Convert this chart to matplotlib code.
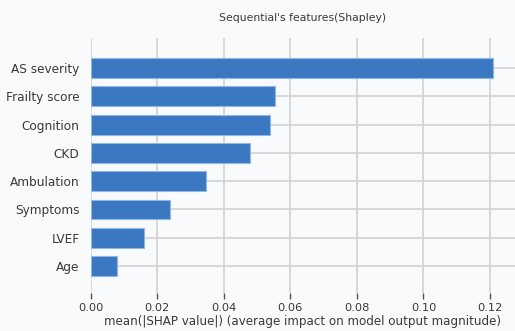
import matplotlib.pyplot as plt

features = ["Age", "LVEF", "Symptoms", "Ambulation", "CKD", "Cognition", "Frailty score", "AS severity"]
mean_shap = [0.0078, 0.0161, 0.0238, 0.0346, 0.0479, 0.0539, 0.0555, 0.1210]
xticks = [0.00, 0.02, 0.04, 0.06, 0.08, 0.10, 0.12]

bg = "#f9fafb"
txt = "#3a3a3a"

fig = plt.figure(figsize=(5.15, 3.31), dpi=100, facecolor=bg)
ax = fig.add_axes([0.176, 0.115, 0.824, 0.770], facecolor=bg)

ypos = list(range(len(features)))
ax.barh(ypos, mean_shap, height=0.7, color="#3b78c2", edgecolor="#8fb8e6", linewidth=0.8, zorder=3)

ax.set_yticks(ypos)
ax.set_yticklabels(features, fontsize=8.7, color=txt)
ax.set_xticks(xticks)
ax.set_xticklabels([f"{t:.2f}" for t in xticks], fontsize=8.2, color=txt)
ax.set_xlim(0, 0.1275)
ax.set_ylim(-0.95, 8.06)

ax.grid(True, color="#d2d2d2", linewidth=1.2, zorder=0)
for s in ["top", "right", "left", "bottom"]:
    ax.spines[s].set_visible(False)
ax.tick_params(axis="y", length=0, pad=8)
ax.tick_params(axis="x", length=4, width=1, color="#555555", pad=3.5)

ax.set_xlabel("mean(|SHAP value|) (average impact on model output magnitude)", fontsize=8.6, color=txt, labelpad=1.5)
ax.set_title("Sequential's features(Shapley)", fontsize=7.8, color=txt, pad=12)

fig.savefig("out.png", dpi=100, facecolor=bg)
